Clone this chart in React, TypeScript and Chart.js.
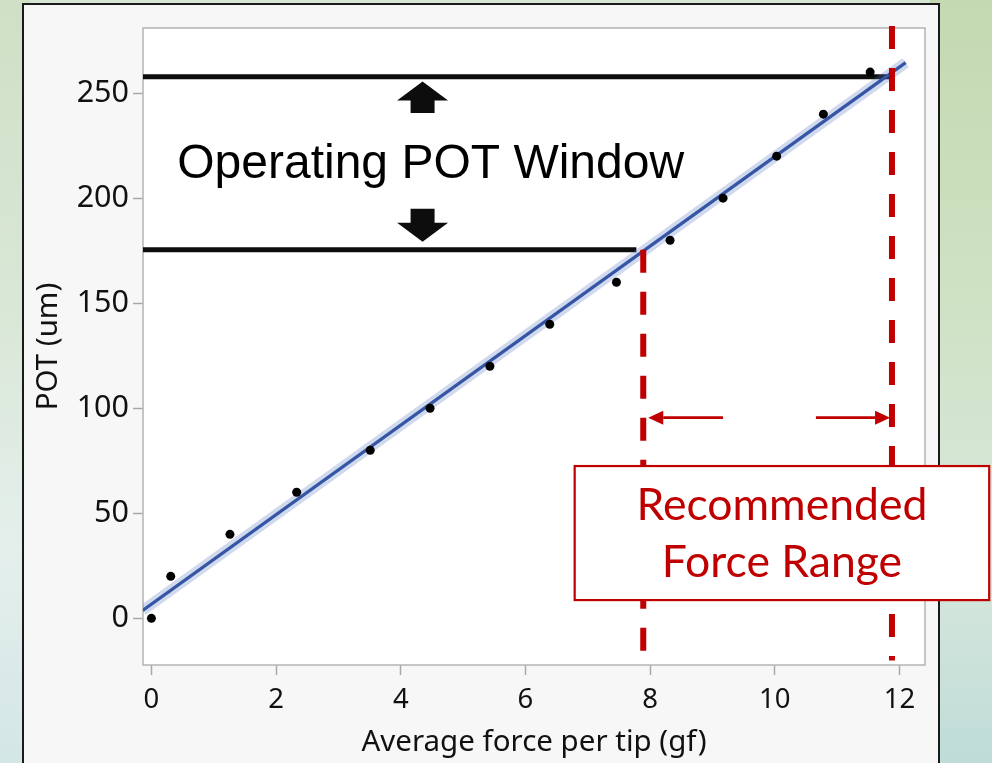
import React, { useEffect, useRef } from "react";
import { Chart, registerables } from "chart.js";

Chart.register(...registerables);

// ---- data ----
const forceX = [0, 0.31, 1.26, 2.33, 3.51, 4.47, 5.43, 6.39, 7.46, 8.32, 9.17, 10.03, 10.78, 11.53];
const potY = [0, 20, 40, 60, 80, 100, 120, 140, 160, 180, 200, 220, 240, 260];
const fitX = [-0.14, 12.1];
const fitY = [3.8, 264.5];
const xTickValues = [0, 2, 4, 6, 8, 10, 12];
const yTickValues = [0, 50, 100, 150, 200, 250];
const xRange = [-0.135, 12.41];
const yRange = [-22.2, 281];
const xTitle = "Average force per tip (gf)";
const yTitle = "POT (um)";

// annotations (data units)
const potWindow = [175.4, 257.8]; // low, high
const windowLineEndX = [7.78, 11.86]; // low line end, high line end
const forceRange = [7.89, 11.88];
const dashedTopY = [175.4, 282];
const dashedBottomY = -20;
const windowArrowX = 4.35;
const windowArrowUp = [240.6, 255.5]; // base, tip
const windowArrowDown = [195, 179.3]; // base, tip
const windowLabel = "Operating POT Window";
const windowLabelPos = [4.48, 209.5]; // center x, baseline y
const rangeArrowY = 95.5;
const rangeArrowLeft = [9.17, 7.97]; // from, tip
const rangeArrowRight = [10.66, 11.85]; // from, tip
const rangeBoxX = [6.79, 13.44];
const rangeBoxY = [72.5, 8.7];
const rangeLabel = ["Recommended", "Force Range"];
const rangeLabelBaseY = [46.8, 19.8];

const RED = "#c00000";
const AXIS_FONT = "'Noto Sans', 'Open Sans', sans-serif";

function blockArrow(ctx: CanvasRenderingContext2D, cx: number, tipY: number, baseY: number) {
  const headH = 19, headW = 51, stemW = 24;
  const dir = Math.sign(tipY - baseY);
  const neckY = tipY - dir * headH;
  ctx.beginPath();
  ctx.moveTo(cx, tipY);
  ctx.lineTo(cx + headW / 2, neckY);
  ctx.lineTo(cx + stemW / 2, neckY);
  ctx.lineTo(cx + stemW / 2, baseY);
  ctx.lineTo(cx - stemW / 2, baseY);
  ctx.lineTo(cx - stemW / 2, neckY);
  ctx.lineTo(cx - headW / 2, neckY);
  ctx.closePath();
  ctx.fill();
}

function lineArrow(ctx: CanvasRenderingContext2D, fromX: number, toX: number, y: number) {
  const headL = 15, headH = 14;
  const dir = Math.sign(toX - fromX);
  ctx.beginPath();
  ctx.moveTo(fromX, y);
  ctx.lineTo(toX - dir * headL, y);
  ctx.stroke();
  ctx.beginPath();
  ctx.moveTo(toX, y);
  ctx.lineTo(toX - dir * headL, y - headH / 2);
  ctx.lineTo(toX - dir * headL, y + headH / 2);
  ctx.closePath();
  ctx.fill();
}

const framePlugin = {
  id: "frame",
  beforeDatasetsDraw(chart: any) {
    const { ctx, chartArea: a } = chart;
    ctx.save();
    ctx.fillStyle = "#ffffff";
    ctx.fillRect(a.left, a.top, a.right - a.left, a.bottom - a.top);
    ctx.strokeStyle = "#b4b4b4";
    ctx.lineWidth = 1.5;
    ctx.strokeRect(a.left, a.top, a.right - a.left, a.bottom - a.top);
    ctx.restore();
  },
};

const overlayPlugin = {
  id: "overlay",
  afterDatasetsDraw(chart: any) {
    const { ctx } = chart;
    const xs = chart.scales.x;
    const ys = chart.scales.y;
    const X = (v: number) => xs.getPixelForValue(v);
    const Y = (v: number) => ys.getPixelForValue(v);
    ctx.save();

    // black block arrows
    ctx.fillStyle = "#0d0d0d";
    blockArrow(ctx, X(windowArrowX), Y(windowArrowUp[1]), Y(windowArrowUp[0]));
    blockArrow(ctx, X(windowArrowX), Y(windowArrowDown[1]), Y(windowArrowDown[0]));

    // window label
    ctx.fillStyle = "#000";
    ctx.font = "48px 'Liberation Sans', Arial, sans-serif";
    ctx.textAlign = "center";
    ctx.textBaseline = "alphabetic";
    ctx.fillText(windowLabel, X(windowLabelPos[0]), Y(windowLabelPos[1]));

    // red range arrows
    ctx.strokeStyle = RED;
    ctx.fillStyle = RED;
    ctx.lineWidth = 2.8;
    lineArrow(ctx, X(rangeArrowLeft[0]), X(rangeArrowLeft[1]), Y(rangeArrowY));
    lineArrow(ctx, X(rangeArrowRight[0]), X(rangeArrowRight[1]), Y(rangeArrowY));

    // box
    const bx0 = X(rangeBoxX[0]), bx1 = X(rangeBoxX[1]);
    const by0 = Y(rangeBoxY[0]), by1 = Y(rangeBoxY[1]);
    ctx.fillStyle = "#ffffff";
    ctx.fillRect(bx0, by0, bx1 - bx0, by1 - by0);
    ctx.lineWidth = 2.2;
    ctx.strokeStyle = RED;
    ctx.strokeRect(bx0, by0, bx1 - bx0, by1 - by0);
    ctx.fillStyle = RED;
    ctx.font = "44.5px Lato, 'Noto Sans', sans-serif";
    const cx = (bx0 + bx1) / 2;
    rangeLabel.forEach((t, i) => ctx.fillText(t, cx, Y(rangeLabelBaseY[i])));
    ctx.restore();
  },
};

export default function App() {
  const ref = useRef<HTMLCanvasElement>(null);

  useEffect(() => {
    const canvas = ref.current;
    if (!canvas) return;
    const points = forceX.map((x, i) => ({ x, y: potY[i] }));
    const fit = fitX.map((x, i) => ({ x, y: fitY[i] }));
    const lineBase = { showLine: true, pointRadius: 0, borderCapStyle: "butt" as const, fill: false };

    const chart = new Chart(canvas, {
      type: "scatter",
      data: {
        datasets: [
          { data: points, pointRadius: 4.5, pointBackgroundColor: "#000", pointBorderWidth: 0, showLine: false },
          {
            ...lineBase,
            data: [{ x: forceRange[0], y: dashedTopY[0] }, { x: forceRange[0], y: dashedBottomY }],
            borderColor: RED, borderWidth: 6, borderDash: [23, 19], clip: false,
          },
          {
            ...lineBase,
            data: [{ x: forceRange[1], y: dashedTopY[1] }, { x: forceRange[1], y: dashedBottomY }],
            borderColor: RED, borderWidth: 6, borderDash: [23, 19], clip: false,
          },
          { ...lineBase, data: fit, borderColor: "#3556a4", borderWidth: 3.2 },
          { ...lineBase, data: fit, borderColor: "rgba(90,120,195,0.28)", borderWidth: 11 },
          {
            ...lineBase,
            data: [{ x: xRange[0], y: potWindow[1] }, { x: windowLineEndX[1], y: potWindow[1] }],
            borderColor: "#0d0d0d", borderWidth: 5,
          },
          {
            ...lineBase,
            data: [{ x: xRange[0], y: potWindow[0] }, { x: windowLineEndX[0], y: potWindow[0] }],
            borderColor: "#0d0d0d", borderWidth: 5,
          },
        ],
      },
      options: {
        responsive: false,
        animation: false,
        events: [],
        layout: { padding: { left: 0, top: 28, right: 67, bottom: 0 } },
        plugins: { legend: { display: false }, tooltip: { enabled: false } },
        scales: {
          x: {
            type: "linear",
            min: xRange[0],
            max: xRange[1],
            afterBuildTicks: (s: any) => { s.ticks = xTickValues.map((v) => ({ value: v })); },
            afterFit: (s: any) => { s.height = 98; },
            grid: { display: true, drawOnChartArea: false, drawTicks: true, tickLength: 10, tickColor: "#a8a8a8", tickWidth: 1.5 },
            border: { display: false },
            ticks: {
              font: { family: AXIS_FONT, size: 27.5 }, color: "#111", padding: 9,
              maxRotation: 0, autoSkip: false, callback: (v: any) => String(v),
            },
            title: { display: true, text: xTitle, font: { family: AXIS_FONT, size: 29.5 }, color: "#111", padding: { top: 0, bottom: 3 } },
          },
          y: {
            type: "linear",
            min: yRange[0],
            max: yRange[1],
            afterBuildTicks: (s: any) => { s.ticks = yTickValues.map((v) => ({ value: v })); },
            afterFit: (s: any) => { s.width = 143; },
            grid: { display: true, drawOnChartArea: false, drawTicks: true, tickLength: 10, tickColor: "#a8a8a8", tickWidth: 1.5 },
            border: { display: false },
            ticks: {
              font: { family: AXIS_FONT, size: 30.5 }, color: "#111", padding: 4,
              autoSkip: false, callback: (v: any) => String(v),
            },
            title: { display: true, text: yTitle, font: { family: AXIS_FONT, size: 29.5 }, color: "#111", padding: { top: 31, bottom: 0 } },
          },
        },
      },
      plugins: [framePlugin, overlayPlugin],
    } as any);
    return () => chart.destroy();
  }, []);

  return (
    <div style={{ position: "fixed", left: 0, top: 0, width: 992, height: 763, overflow: "hidden", background: "#d6e6d4" }}>
      <div style={{ position: "absolute", left: 0, top: 0, width: 30, height: 763, background: "linear-gradient(180deg, #cfe0c6 0%, #d9e7d6 40%, #e4efec 72%, #d3e6e6 100%)" }} />
      <div style={{ position: "absolute", left: 930, top: 0, width: 62, height: 763, background: "linear-gradient(180deg, #c3d9b1 0%, #cfe2c4 40%, #d8e8dc 72%, #bfdcd8 100%)" }} />
      <div style={{ position: "absolute", left: 22, top: 3, width: 918, height: 800, boxSizing: "border-box", border: "2px solid #1a1a1a", background: "#f7f7f7" }} />
      <canvas ref={ref} width={992} height={763} style={{ position: "absolute", left: 0, top: 0, width: 992, height: 763, display: "block" }} />
    </div>
  );
}
